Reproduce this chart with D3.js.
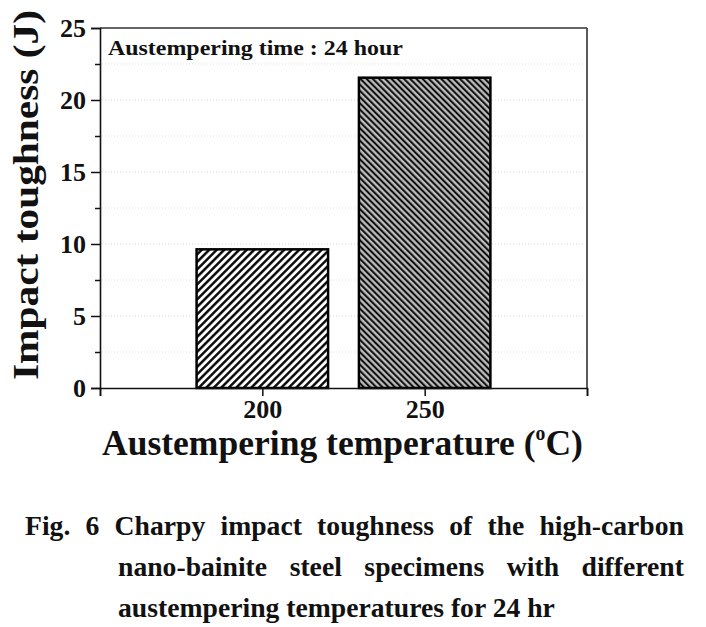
<!DOCTYPE html>
<html>
<head>
<meta charset="utf-8">
<script src="https://cdn.jsdelivr.net/npm/d3@7"></script>
</head>
<body style="margin:0;padding:0;background:#fff">
<svg id="chart" width="706" height="627"></svg>
<script>
// ---- data ----
const temperatures = [200, 250];
const toughness = [9.63, 21.55];
const yTicks = [0, 5, 10, 15, 20, 25];
const yMinorTicks = [2.5, 7.5, 12.5, 17.5, 22.5];
const xTicks = [150, 200, 250, 300];
const xTickLabels = ["", "200", "250", ""];
const insetLabel = "Austempering time : 24 hour";
const yTitle = "Impact toughness (J)";
const xTitleMain = "Austempering temperature (";
const captionLines = [
  "Fig. 6 Charpy impact toughness of the high-carbon",
  "nano-bainite steel specimens with different",
  "austempering temperatures for 24 hr"
];

// ---- layout ----
const FONT = "Liberation Serif";
const svg = d3.select("#chart");
const L = 100, R = 587, T = 28, B = 388;
const barWidthUnits = 40.5;
const x = d3.scaleLinear().domain([150, 300]).range([L, R]);
const y = d3.scaleLinear().domain([0, 25]).range([B, T]);

function txt(parent, size) {
  return parent.append("text").attr("font-family", FONT).attr("font-weight", "bold")
    .attr("font-size", size).attr("fill", "#111");
}

// patterns
const defs = svg.append("defs");
const p1 = defs.append("pattern").attr("id", "hatch1").attr("patternUnits", "userSpaceOnUse")
  .attr("width", 5.3).attr("height", 10).attr("patternTransform", "rotate(45)");
p1.append("rect").attr("width", 5.3).attr("height", 10).attr("fill", "#fff");
p1.append("line").attr("x1", 1.3).attr("y1", 0).attr("x2", 1.3).attr("y2", 10)
  .attr("stroke", "#000").attr("stroke-width", 2.4);
const p2 = defs.append("pattern").attr("id", "hatch2").attr("patternUnits", "userSpaceOnUse")
  .attr("width", 4.4).attr("height", 10).attr("patternTransform", "rotate(-45)");
p2.append("rect").attr("width", 4.4).attr("height", 10).attr("fill", "#bdbdbd");
p2.append("line").attr("x1", 1.1).attr("y1", 0).attr("x2", 1.1).attr("y2", 10)
  .attr("stroke", "#000").attr("stroke-width", 1.9);

// faint dotted grid
const gridVals = yTicks.concat(yMinorTicks).filter(v => v > 0 && v < 25);
svg.append("g").selectAll("line").data(gridVals).join("line")
  .attr("x1", L + 2).attr("x2", R - 2)
  .attr("y1", d => y(d)).attr("y2", d => y(d))
  .attr("stroke", "#dadada").attr("stroke-width", 1).attr("stroke-dasharray", "1,2");

// bars
const fills = ["url(#hatch1)", "url(#hatch2)"];
svg.append("g").selectAll("rect").data(temperatures).join("rect")
  .attr("x", d => x(d - barWidthUnits / 2))
  .attr("width", d => x(d + barWidthUnits / 2) - x(d - barWidthUnits / 2))
  .attr("y", (d, i) => y(toughness[i]))
  .attr("height", (d, i) => y(0) - y(toughness[i]))
  .attr("fill", (d, i) => fills[i])
  .attr("stroke", "#000").attr("stroke-width", 2.5);

// frame top / right
svg.append("line").attr("x1", L).attr("x2", R).attr("y1", T).attr("y2", T)
  .attr("stroke", "#333").attr("stroke-width", 1.6);
svg.append("line").attr("x1", R).attr("x2", R).attr("y1", T).attr("y2", B)
  .attr("stroke", "#333").attr("stroke-width", 1.6);

// y axis
const yAxis = svg.append("g").attr("transform", `translate(${L},0)`)
  .call(d3.axisLeft(y).tickValues(yTicks).tickSize(9).tickPadding(5).tickFormat(d3.format("d")));
yAxis.attr("font-family", FONT).attr("font-size", 26).attr("font-weight", "bold");
yAxis.selectAll("text").attr("fill", "#111").attr("dy", "0.34em").attr("x", -14);
const yMinor = svg.append("g").attr("transform", `translate(${L},0)`)
  .call(d3.axisLeft(y).tickValues(yMinorTicks).tickSize(5).tickFormat(""));
yMinor.select(".domain").remove();
[yAxis, yMinor].forEach(g => {
  g.select(".domain").attr("stroke", "#111").attr("stroke-width", 1.6);
  g.selectAll(".tick line").attr("stroke", "#111").attr("stroke-width", 1.5);
});

// x axis
const xAxis = svg.append("g").attr("transform", `translate(0,${B})`)
  .call(d3.axisBottom(x).tickValues(xTicks).tickSize(8).tickPadding(6)
    .tickFormat((d, i) => xTickLabels[i]));
xAxis.attr("font-family", FONT).attr("font-size", 26).attr("font-weight", "bold");
xAxis.select(".domain").attr("stroke", "#111").attr("stroke-width", 1.6);
xAxis.selectAll(".tick line").attr("stroke", "#111").attr("stroke-width", 1.5);
xAxis.selectAll("text").attr("fill", "#111").attr("dy", null).attr("y", 30);

// helper: fit text horizontally
function fitH(sel, x0, baseY, width) {
  const w = sel.node().getComputedTextLength();
  sel.attr("x", 0).attr("y", 0).attr("text-anchor", "start")
    .attr("transform", `translate(${x0},${baseY}) scale(${width / w},1)`);
}

// inset label
fitH(txt(svg, 22).text(insetLabel), 108, 55, 295);

// x title
const xt = txt(svg, 36);
xt.append("tspan").text(xTitleMain);
xt.append("tspan").attr("font-size", 20).attr("dy", -15).text("o");
xt.append("tspan").attr("dy", 15).text("C)");
{
  const w = xt.node().getBBox().width;
  xt.attr("transform", `translate(102,455) scale(${481 / w},1)`);
}

// y title (rotated)
const yt = txt(svg, 36).text(yTitle);
{
  const w = yt.node().getComputedTextLength();
  yt.attr("transform", `translate(38,380) rotate(-90) scale(${370 / w},1)`);
}

// caption
const capFont = 28;
const baselines = [535, 576, 617];
const lineStarts = [25, 118, 118];
const lineEnd = 684;
const probe = txt(svg, capFont).text(captionLines[2]);
const k = 437 / probe.node().getComputedTextLength();
probe.remove();
captionLines.forEach((line, li) => {
  if (li === 2) {
    txt(svg, capFont).text(line)
      .attr("transform", `translate(${lineStarts[li]},${baselines[li]}) scale(${k},1)`);
    return;
  }
  const words = line.split(" ");
  const nodes = words.map(w => txt(svg, capFont).text(w));
  const widths = nodes.map(n => n.node().getComputedTextLength() * k);
  const total = widths.reduce((a, b) => a + b, 0);
  const gap = (lineEnd - lineStarts[li] - total) / (words.length - 1);
  let cx = lineStarts[li];
  nodes.forEach((n, i) => {
    n.attr("transform", `translate(${cx},${baselines[li]}) scale(${k},1)`);
    cx += widths[i] + gap;
  });
});
</script>
</body>
</html>
